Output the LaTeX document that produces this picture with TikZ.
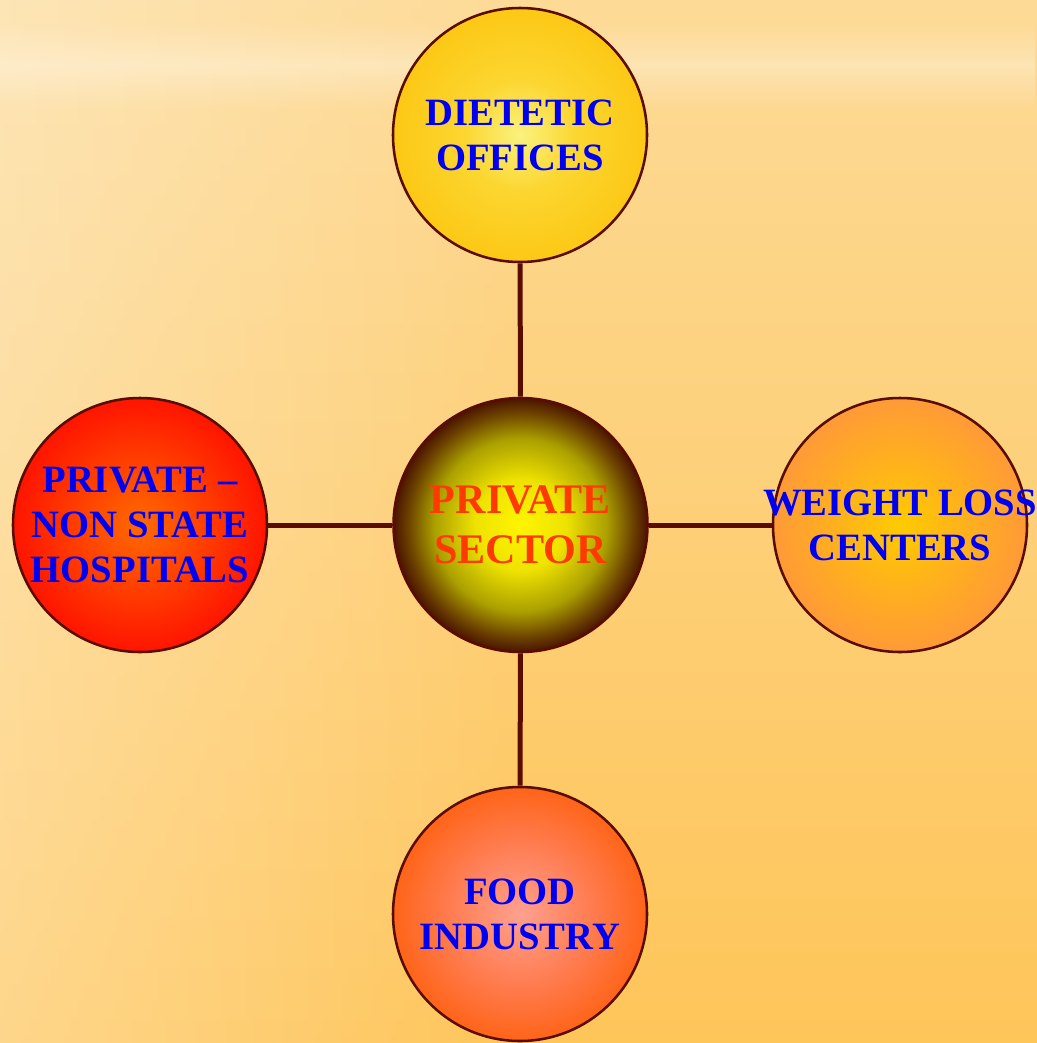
\documentclass[tikz,border=0pt]{standalone}
\usepackage{fontspec}
\setmainfont{Liberation Serif}
\usetikzlibrary{fadings}
\definecolor{bgtop}{HTML}{FDDA96}
\definecolor{bgbot}{HTML}{FEC559}
\definecolor{edge}{HTML}{5A0C00}
\definecolor{txtblue}{HTML}{0000F0}
\definecolor{txtred}{HTML}{FF3A00}
\definecolor{tA}{HTML}{FAF27E}\definecolor{tB}{HTML}{FCD630}\definecolor{tC}{HTML}{FCC815}
\definecolor{cA}{HTML}{FFF500}\definecolor{cB}{HTML}{EEE200}\definecolor{cC}{HTML}{ABA000}\definecolor{cD}{HTML}{6E4400}\definecolor{cE}{HTML}{4A1400}
\definecolor{lA}{HTML}{FF6A00}\definecolor{lB}{HTML}{FF3A00}\definecolor{lC}{HTML}{FF1400}
\definecolor{rA}{HTML}{FFCB00}\definecolor{rB}{HTML}{FFAE20}\definecolor{rC}{HTML}{FF9A38}
\definecolor{bA}{HTML}{FFA090}\definecolor{bB}{HTML}{FF7C50}\definecolor{bC}{HTML}{FF6418}
\pgfdeclareradialshading{ballTop}{\pgfpoint{0bp}{0bp}}{color(0bp)=(tA); color(11bp)=(tB); color(25bp)=(tC); color(50bp)=(tC)}
\pgfdeclareradialshading{ballCenter}{\pgfpoint{0bp}{0bp}}{color(0bp)=(cA); color(9bp)=(cB); color(17bp)=(cC); color(22bp)=(cD); color(25bp)=(cE); color(50bp)=(cE)}
\pgfdeclareradialshading{ballLeft}{\pgfpoint{0bp}{0bp}}{color(0bp)=(lA); color(14bp)=(lB); color(25bp)=(lC); color(50bp)=(lC)}
\pgfdeclareradialshading{ballRight}{\pgfpoint{0bp}{0bp}}{color(0bp)=(rA); color(14bp)=(rB); color(25bp)=(rC); color(50bp)=(rC)}
\pgfdeclareradialshading{ballBottom}{\pgfpoint{0bp}{0bp}}{color(0bp)=(bA); color(14bp)=(bB); color(25bp)=(bC); color(50bp)=(bC)}
\tikzfading[name=bandfade, top color=transparent!100, bottom color=transparent!100, middle color=transparent!0]
\tikzset{
  ball/.style={circle, draw=edge, line width=1.9pt, minimum size=190.5pt, inner sep=0pt, align=center, font=\bfseries\fontsize{29}{33.75}\selectfont, text=txtblue},
  link/.style={draw=edge, line width=3.75pt}
}
\begin{document}
\begin{tikzpicture}[x=0.75pt, y=-0.75pt]
\useasboundingbox (0,0) rectangle (1037,1043);
\shade[top color=bgtop, bottom color=bgbot] (0,0) rectangle (1037,1043);
\fill[white, opacity=0.3, path fading=east] (0,0) rectangle (520,1043);
\fill[white, opacity=0.3, path fading=bandfade] (0,20) rectangle (1037,110);
\node[ball, shade, shading=ballTop] (top) at (520,135) {DIETETIC\\OFFICES};
\node[ball, shade, shading=ballCenter, text=txtred, font=\bfseries\fontsize{31.6}{37.5}\selectfont] (ctr) at (520.5,525) {PRIVATE\\SECTOR};
\node[ball, shade, shading=ballLeft] (left) at (140,525) {\makebox[0pt]{PRIVATE –}\\\makebox[0pt]{NON STATE}\\\makebox[0pt]{HOSPITALS}};
\node[ball, shade, shading=ballRight] (right) at (900,525) {\makebox[0pt]{WEIGHT LOSS}\\\makebox[0pt]{CENTERS}};
\node[ball, shade, shading=ballBottom] (bot) at (520,914) {FOOD\\INDUSTRY};
\draw[link] (ctr) -- (top);
\draw[link] (ctr) -- (left);
\draw[link] (ctr) -- (right);
\draw[link] (ctr) -- (bot);
\end{tikzpicture}
\end{document}
